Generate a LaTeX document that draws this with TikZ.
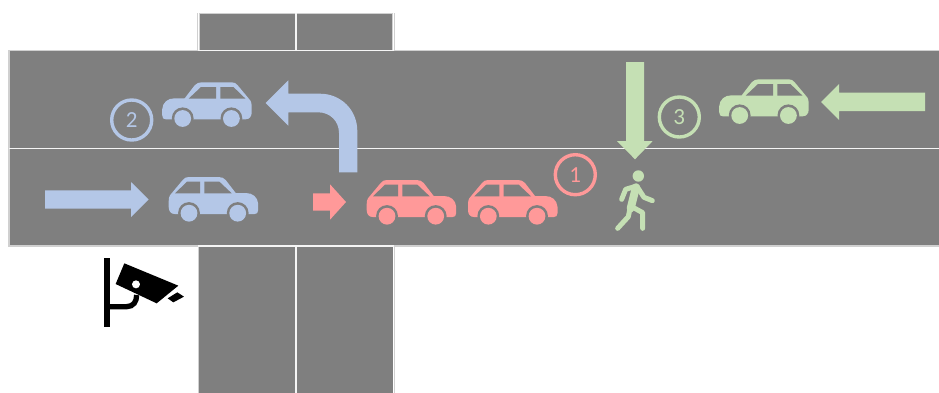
\documentclass[tikz,border=0pt]{standalone}
\usepackage{fontspec}
\setmainfont{Carlito}
\definecolor{road}{HTML}{7F7F7F}
\definecolor{edge}{HTML}{D0D0D0}
\definecolor{cblue}{HTML}{B4C7E7}
\definecolor{cred}{HTML}{FF9999}
\definecolor{cgreen}{HTML}{C5E0B4}
\tikzset{
  roadbox/.style={fill=road},
  laneline/.style={draw=white!96!black,line width=1.8pt},
  kerb/.style={draw=edge,line width=1.6pt},
  badge/.style={circle,draw=#1,line width=3.4pt,minimum size=40pt,inner sep=0pt,text=#1,font=\fontsize{23}{23}\selectfont},
  carshape/.pic={
    \fill[pic actions] (0,30) -- (0,24) .. controls (0,19) and (2,17) .. (4,15)
      -- (14,3) .. controls (16,1) and (17,0) .. (20,0) -- (50,0)
      .. controls (53,0) and (55,1) .. (57,3) -- (67,16) -- (77,16)
      .. controls (84,16) and (89,20) .. (89.5,27) -- (89.5,33)
      .. controls (89.5,36) and (88,37) .. (86,37) -- (6,37)
      .. controls (2,37) and (0,34) .. (0,30) -- cycle;
    \fill[road] (6.3,16.3) -- (18.3,4.7) -- (31.3,4.7) -- (31.3,16.3) -- cycle;
    \fill[road] (35.7,4.7) -- (50.7,4.7) -- (63,16.3) -- (35.7,16.3) -- cycle;
    \fill[road] (20.3,36) circle (10.9);
    \fill[road] (69,36) circle (10.9);
    \fill[pic actions] (20.3,36.2) circle (8.4);
    \fill[pic actions] (69,36.2) circle (8.4);
  }
}
\begin{document}
\begin{tikzpicture}[x=1pt,y=-1pt]
\useasboundingbox (0,0) rectangle (939,392);
% roads
\fill[roadbox] (199,13) rectangle (392.8,50);
\fill[roadbox] (199,246) rectangle (392.8,395);
\draw[kerb,line width=1pt] (197.6,50) -- (197.6,13) (394,13) -- (394,50);
\draw[kerb,line width=1pt] (198,246) -- (198,395) (394,246) -- (394,395);
\draw[kerb,line width=0.8pt] (199,50) -- (199,13.3) -- (392.8,13.3) -- (392.8,50);
\fill[road] (9,50) rectangle (945,246);
\draw[kerb] (945,50.5) -- (9,50.5) -- (9,246) -- (945,246);
\draw[laneline] (198,50.5) -- (394,50.5);
\draw[laneline] (198,246) -- (394,246);
\draw[laneline] (9,148.5) -- (945,148.5);
\draw[laneline] (295.8,13) -- (295.8,50);
\draw[laneline] (295.8,246) -- (295.8,395);
% blue arrows
\fill[cblue] (45,190.4) -- (131,190.4) -- (131,182) -- (148.7,199.5) -- (131,217) -- (131,208.6) -- (45,208.6) -- cycle;
\fill[cblue] (265.7,103) -- (288.3,80.3) -- (288.3,93.7) -- (320,93.7)
  .. controls (341,93.7) and (357.3,110) .. (357.3,131) -- (357.3,172.3) -- (339,172.3) -- (339,133)
  .. controls (339,121) and (330,112.3) .. (318,112.3) -- (288.3,112.3) -- (288.3,125.7) -- cycle;
% red arrow
\fill[cred] (346,202) -- (330,184.3) -- (330,193.3) -- (313,193.3) -- (313,210.7) -- (330,210.7) -- (330,219.7) -- cycle;
% green arrows
\fill[cgreen] (626,62) -- (644,62) -- (644,141) -- (652.7,141) -- (635,159.3) -- (617,141) -- (626,141) -- cycle;
\fill[cgreen] (821,102) -- (839,84) -- (839,92.7) -- (925,92.7) -- (925,111) -- (839,111) -- (839,120) -- cycle;
% cars
\pic[cblue] (carA) at (168.7,177) {carshape};
\pic[cblue,xscale=-1] (carB) at (251.7,82.3) {carshape};
\pic[cgreen,xscale=-1] (carC) at (808.7,79.3) {carshape};
\pic[cred] (carD) at (366.7,180) {carshape};
\pic[cred] (carE) at (468,180) {carshape};
% badges
\node[badge=cred] (one) at (575.3,174.7) {1};
\node[badge=cblue] (two) at (131.7,120) {2};
\node[badge=cgreen] (three) at (679.3,117) {3};
% pedestrian
\begin{scope}[shift={(540,60)},x=0.3333pt,y=-0.3333pt,cgreen,line cap=round,line join=round]
\fill[cgreen] (295,348) circle (5.7pt);
\draw[line width=5pt] (245,418) -- (257,388) -- (290,378) -- (312,412) -- (337,422);
\draw[line width=8pt] (288,382) -- (272,445);
\draw[line width=5pt] (270,445) -- (265,470) -- (233,505);
\draw[line width=5pt] (275,440) -- (308,458) -- (308,505);
\end{scope}
% camera
\begin{scope}[shift={(90,240)},x=0.3333pt,y=-0.3333pt]
\fill[black] (41,53) rectangle (60,260);
\draw[black,line width=5.3pt] (55,200) -- (110,200) .. controls (130,200) and (140,185) .. (140,165);
\fill[black] (103,70) -- (265,137) -- (200,190) -- (77,132) -- cycle;
\fill[white] (138,133) circle (4pt);
\fill[black] (262,157) -- (282,170) -- (250,187) -- (233,175) -- cycle;
\end{scope}
\end{tikzpicture}
\end{document}
